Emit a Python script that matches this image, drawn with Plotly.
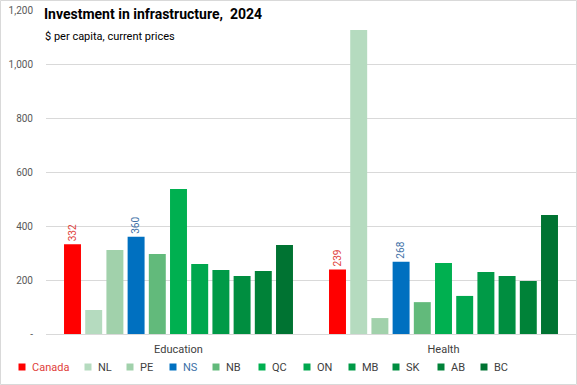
import plotly.graph_objects as go

categories = ["Education", "Health"]
regions = ["Canada", "NL", "PE", "NS", "NB", "QC", "ON", "MB", "SK", "AB", "BC"]
education = [332, 89, 311, 360, 296, 537, 259, 237, 215, 233, 330]
health = [239, 1126, 59, 268, 118, 263, 141, 230, 215, 196, 441]
colors = ["#FF0000", "#B5DBBF", "#A1D1AB", "#0070C0", "#62BA7B", "#00B050",
          "#00A74E", "#009A47", "#008E40", "#008238", "#007332"]
labelled = {"Canada": "#E0403A", "NS": "#3C6FA6"}
y_ticks = [0, 200, 400, 600, 800, 1000, 1200]
y_ticktext = ["-", "200", "400", "600", "800", "1,000", "1,200"]

# legend layout (pixel x of each legend swatch centre)
legend_x = [22, 88, 130, 173, 216, 262, 307, 352, 396, 441, 484]
legend_y = 367

W, H = 577, 385
L, R, T, B = 46, 1, 10, 51
pw, ph = W - L - R, H - T - B

def px(x):
    return (x - L) / pw

def py(y):
    return (H - B - y) / ph

fig = go.Figure()
for i, reg in enumerate(regions):
    vals = [education[i], health[i]]
    text = [str(v) for v in vals] if reg in labelled else None
    fig.add_trace(go.Bar(
        x=categories, y=vals, name=reg, marker_color=colors[i],
        marker_line_width=0,
        text=text, textposition="outside", textangle=-90,
        textfont=dict(color=labelled.get(reg, "#000"), size=11,
                      family="Roboto, Arial, sans-serif"),
        cliponaxis=False, showlegend=False,
    ))
    # legend entry
    fig.add_shape(type="rect", xref="paper", yref="paper",
                  x0=px(legend_x[i] - 3.5), x1=px(legend_x[i] + 3.5),
                  y0=py(legend_y + 3.5), y1=py(legend_y - 3.5),
                  fillcolor=colors[i], line_width=0)
    fig.add_annotation(text=reg, xref="paper", yref="paper",
                       x=px(legend_x[i] + 8), y=py(legend_y),
                       xanchor="left", yanchor="middle", showarrow=False,
                       font=dict(size=11, color=labelled.get(reg, "#404040")))

fig.update_layout(
    width=W, height=H,
    margin=dict(l=L, r=R, t=T, b=B, autoexpand=False),
    paper_bgcolor="white", plot_bgcolor="white",
    barmode="group", bargap=0.12, bargroupgap=0.2,
    font=dict(family="Roboto, Arial, sans-serif", color="#595959", size=11),
    showlegend=False,
    uniformtext=dict(minsize=8, mode="show"),
    title=dict(text="<b>Investment in infrastructure,  2024</b>",
               xref="container", yref="container", x=44 / W, y=1 - 9 / H,
               xanchor="left", yanchor="top",
               font=dict(size=14, color="#000000", family="Roboto, Arial, sans-serif")),
)
fig.update_xaxes(showgrid=False, showline=True, linecolor="#D9D9D9", linewidth=1,
                 ticks="", tickfont=dict(size=11, color="#404040"), automargin=False,
                 ticklabelstandoff=5)
fig.update_yaxes(range=[0, 1200], tickvals=y_ticks, ticktext=y_ticktext,
                 showgrid=True, gridcolor="#D9D9D9", gridwidth=1,
                 zeroline=False, ticks="", tickfont=dict(size=10, color="#595959"),
                 ticklabelstandoff=12, automargin=False)

fig.add_annotation(text="$ per capita, current prices",
                   xref="paper", yref="paper", x=px(43), y=py(28),
                   xanchor="left", yanchor="top", showarrow=False,
                   font=dict(size=11, color="#000000"), bgcolor="white")
fig.add_shape(type="rect", xref="paper", yref="paper",
              x0=px(0.5), x1=px(W - 0.5), y0=py(H - 0.5), y1=py(0.5),
              line=dict(color="#D9D9D9", width=1), layer="below")

fig.write_html("out.html", config={"displayModeBar": False},
               post_script="document.body.style.margin='0';document.body.style.overflow='hidden';")
